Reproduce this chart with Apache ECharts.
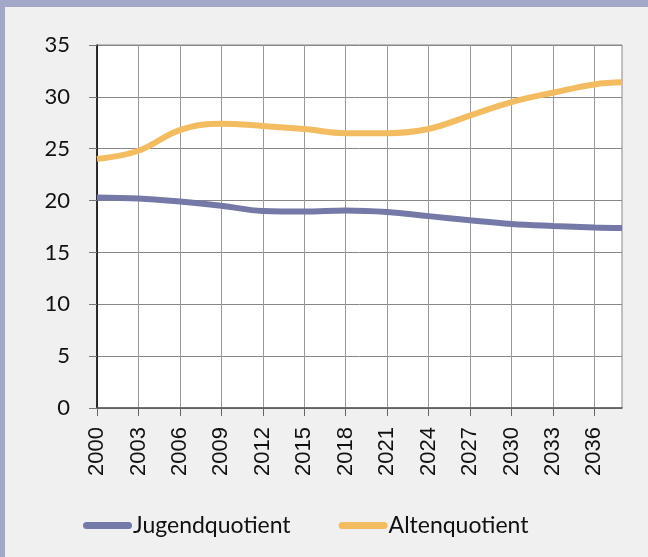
<!DOCTYPE html>
<html>
<head>
<meta charset="utf-8">
<script src="https://cdn.jsdelivr.net/npm/echarts@6/dist/echarts.min.js"></script>
<style>
html,body{margin:0;padding:0;background:#f0f0f0;}
#c{width:648px;height:557px;}
</style>
</head>
<body>
<div id="c"></div>
<script>
// Years (categories)
var years = [];
for (var y = 2000; y <= 2038; y++) years.push(String(y));

// Values (every 3 years plus the last year); other years left empty
var readYears = ['2000','2003','2006','2009','2012','2015','2018','2021','2024','2027','2030','2033','2036','2038'];
var jugend = [20.3, 20.2, 19.9, 19.5, 19.0, 18.95, 19.05, 18.9, 18.5, 18.1, 17.75, 17.55, 17.4, 17.35];
var alten  = [24.0, 24.8, 26.8, 27.4, 27.2, 26.9, 26.5, 26.5, 26.9, 28.2, 29.5, 30.4, 31.2, 31.4];
var yTicks = [0, 5, 10, 15, 20, 25, 30, 35];
var seriesNames = ['Jugendquotient', 'Altenquotient'];

function toSeriesData(vals) {
  var out = years.map(function () { return null; });
  readYears.forEach(function (yr, i) { out[years.indexOf(yr)] = vals[i]; });
  return out;
}

var legendIcon = 'path://M3.5,0 H45.5 A3.5,3.5 0 0 1 45.5,7 H3.5 A3.5,3.5 0 0 1 3.5,0 Z';

var chart = echarts.init(document.getElementById('c'), null, {renderer: 'canvas'});
chart.setOption({
  backgroundColor: '#f0f0f0',
  animation: false,
  graphic: [
    {type: 'rect', shape: {x: 0, y: 0, width: 648, height: 7}, style: {fill: '#a3a8c8'}, z: 100},
    {type: 'rect', shape: {x: 0, y: 0, width: 5, height: 557}, style: {fill: '#a3a8c8'}, z: 100}
  ],
  grid: {
    left: 97, right: 26, top: 45, bottom: 149,
    show: true, backgroundColor: '#ffffff', borderColor: '#888888', borderWidth: 1
  },
  legend: {
    data: seriesNames,
    left: 83,
    top: 514,
    padding: 0,
    itemWidth: 49,
    itemHeight: 7,
    itemGap: 48,
    icon: legendIcon,
    textStyle: {fontFamily: 'Lato', fontSize: 23, color: '#111', padding: [0, 0, 0, -4]}
  },
  xAxis: {
    type: 'category',
    data: years,
    boundaryGap: false,
    axisLine: {show: true, lineStyle: {color: '#555', width: 1.5}},
    axisTick: {show: true, interval: 2, length: 8, lineStyle: {color: '#666'}},
    axisLabel: {
      interval: 2, rotate: 90, margin: 19,
      fontFamily: 'Liberation Sans', fontSize: 22, color: '#111'
    },
    splitLine: {show: true, interval: 2, lineStyle: {color: '#999', width: 1}}
  },
  yAxis: {
    type: 'value',
    min: 0, max: 35, interval: 5,
    axisLine: {show: true, lineStyle: {color: '#000', width: 1.5}},
    axisTick: {show: true, length: 8, lineStyle: {color: '#777'}},
    axisLabel: {
      margin: 27, fontFamily: 'Lato', fontSize: 22, color: '#111',
      formatter: function (v) { return yTicks.indexOf(v) >= 0 ? String(v) : ''; }
    },
    splitLine: {show: true, lineStyle: {color: '#888', width: 1}}
  },
  series: [
    {
      name: seriesNames[0], type: 'line', data: toSeriesData(jugend),
      smooth: 0.4, connectNulls: true, showSymbol: false, symbol: 'none',
      lineStyle: {color: '#7479a7', width: 6},
      itemStyle: {color: '#7479a7'}
    },
    {
      name: seriesNames[1], type: 'line', data: toSeriesData(alten),
      smooth: 0.4, connectNulls: true, showSymbol: false, symbol: 'none',
      lineStyle: {color: '#f4bc60', width: 6},
      itemStyle: {color: '#f4bc60'}
    }
  ]
});
</script>
</body>
</html>
